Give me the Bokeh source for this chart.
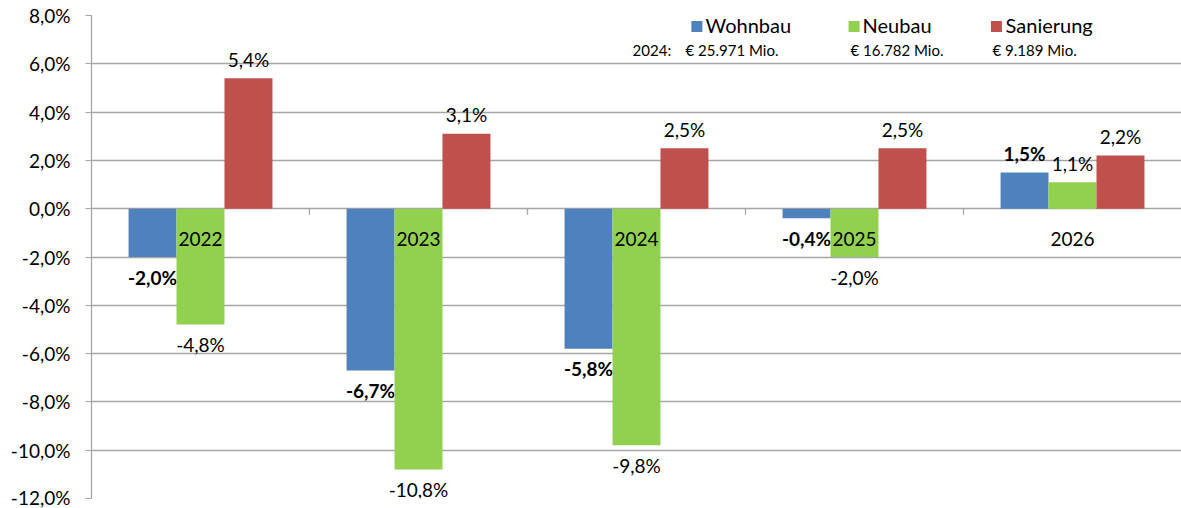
from bokeh.plotting import figure
from bokeh.models import ColumnDataSource, FixedTicker, Range1d
from bokeh.core.properties import value
from bokeh.embed import file_html
from bokeh.resources import INLINE

# ---- data ----
years = ["2022", "2023", "2024", "2025", "2026"]
wohnbau = [-2.0, -6.7, -5.8, -0.4, 1.5]
neubau = [-4.8, -10.8, -9.8, -2.0, 1.1]
sanierung = [5.4, 3.1, 2.5, 2.5, 2.2]
series_names = ["Wohnbau", "Neubau", "Sanierung"]
totals_label = "2024:"
totals_2024 = ["€ 25.971 Mio.", "€ 16.782 Mio.", "€ 9.189 Mio."]
y_ticks = [-12, -10, -8, -6, -4, -2, 0, 2, 4, 6, 8]

# ---- style ----
FONT = value("Lato")
colors = ["#4f81bd", "#92d050", "#c0504d"]
offsets = [-0.22, 0.0, 0.22]
bold = ["bold", "normal", "normal"]
GRID = "#a6a6a6"


def fmt(v):
    return f"{v:.1f}%".replace(".", ",")


p = figure(width=1181, height=508, output_backend="svg", toolbar_location=None,
           x_range=Range1d(0, 5), y_range=Range1d(-12, 8),
           min_border_left=91, min_border_right=0, min_border_top=15, min_border_bottom=10)
p.outline_line_color = None
p.xaxis.visible = False
p.xgrid.visible = False
p.ygrid.ticker = FixedTicker(ticks=y_ticks)
p.ygrid.grid_line_color = GRID
p.ygrid.grid_line_width = 1.3

ax = p.yaxis[0]
ax.ticker = FixedTicker(ticks=y_ticks)
ax.major_label_overrides = {t: fmt(t) for t in y_ticks}
ax.axis_line_color = GRID
ax.axis_line_width = 1.3
ax.major_tick_line_color = GRID
ax.major_tick_out = 6
ax.major_tick_in = 0
ax.minor_tick_line_color = None
ax.major_label_text_font = "Lato"
ax.major_label_text_font_size = "19px"
ax.major_label_text_color = "#000000"
ax.major_label_standoff = 15

centers = [i + 0.5 for i in range(len(years))]

for k, vals in enumerate([wohnbau, neubau, sanierung]):
    xs = [c + offsets[k] for c in centers]
    src = ColumnDataSource(dict(
        x=xs, top=vals, lab=[fmt(v) for v in vals],
        yoff=[20 if v < 0 else -19 for v in vals]))
    p.vbar(x="x", top="top", bottom=0, width=0.22, source=src,
           fill_color=colors[k], line_color=None)
    p.text(x="x", y="top", text="lab", y_offset="yoff", source=src,
           text_font=FONT, text_font_size="19px", text_font_style=bold[k],
           text_align="center", text_baseline="middle", text_color="#000000")

# category labels at the zero line
p.text(x=centers, y=[0] * len(years), text=years, y_offset=30,
       text_font=FONT, text_font_size="19px", text_align="center",
       text_baseline="middle", text_color="#000000")
# category boundary ticks on the zero line
bx = [float(i) for i in range(1, len(years))]
p.segment(x0=bx, y0=[0] * len(bx), x1=bx, y1=[-0.25] * len(bx),
          line_color=GRID, line_width=1.3)

# legend (manual, like the original)
sq_x = [2.777, 3.498, 4.151]
tx_x = [2.817, 3.537, 4.193]
p.scatter(x=sq_x, y=[7.54] * 3, marker="square", size=11,
          fill_color=colors, line_color=None)
p.text(x=tx_x, y=[7.62] * 3, text=series_names, text_font=FONT,
       text_font_size="20px", text_baseline="middle", text_color="#000000")
p.text(x=[2.482], y=[6.58], text=[totals_label], text_font=FONT,
       text_font_size="15px", text_baseline="middle", text_color="#000000")
p.text(x=[2.725, 3.482, 4.133], y=[6.58] * 3, text=totals_2024, text_font=FONT,
       text_font_size="15px", text_baseline="middle", text_color="#000000")

open("out.html", "w").write(file_html(p, INLINE))
